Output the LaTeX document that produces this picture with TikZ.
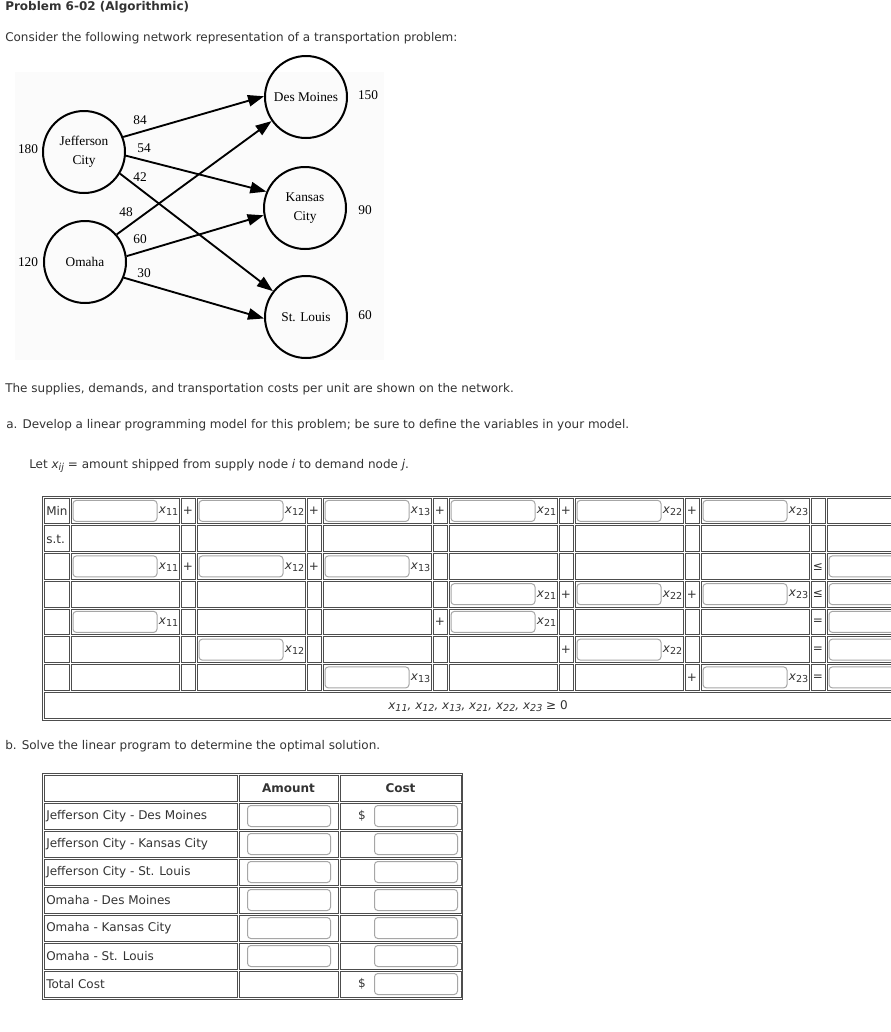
\documentclass[tikz,border=0pt]{standalone}
\usepackage{xcolor}
\usepackage{tikz}
\usepackage{fontspec}
\setmainfont{DejaVu Sans}
\newfontfamily\netfont{Liberation Serif}
\usetikzlibrary{
  arrows.meta,
  positioning,
  calc
}
\definecolor{txtGray}{HTML}{333333}
\definecolor{cellLine}{HTML}{4D4D4D}
\definecolor{boxLine}{HTML}{A6A6A6}
\definecolor{netBack}{HTML}{FBFBFB}

\newcommand{\subnum}[1]{\raisebox{-0.3ex}{\fontsize{7.2}{8}\selectfont #1}}
\newcommand{\xvar}[1]{\textit{x}\subnum{#1}}

\tikzset{
  body/.style={font=\fontsize{9}{11}\selectfont, text=txtGray, inner sep=0pt, anchor=west},
  head/.style={body, font=\fontsize{9}{11}\selectfont\bfseries},
  city/.style={circle, draw, line width=1.5pt, minimum size=61.5pt, inner sep=0pt,
    align=center, font=\netfont\fontsize{10}{14}\selectfont},
  netlbl/.style={font=\netfont\fontsize{10}{12}\selectfont, inner sep=0pt},
  route/.style={line width=1.4pt, -{Triangle[length=12pt,width=8.5pt]}},
  cell/.style={draw=cellLine, line width=0.75pt},
  inbox/.style={draw=boxLine, fill=white, rounded corners=2.5pt, line width=0.75pt},
  varlbl/.style={body, anchor=east},
  sign/.style={body, anchor=center}
}

\begin{document}
\begin{tikzpicture}[x=0.75pt,y=-0.75pt]
  \clip (0,0) rectangle (891,1032);
  \fill[white] (0,0) rectangle (891,1032);

  % heading
  \node[head] (title) at (5,7) {Problem 6-02 (Algorithmic)};
  \node[body] (intro) at (5,38) {Consider the following network representation of a transportation problem:};

  % network
  \fill[netBack] (15,72) rectangle (384,360);
  \node[city] (jc) at (84,152) {Jefferson\\City};
  \node[city] (om) at (85,262) {Omaha};
  \node[city] (dm) at (306,97) {Des Moines};
  \node[city] (kc) at (305,208) {Kansas\\City};
  \node[city] (sl) at (306,317) {St. Louis};
  \node[netlbl] (sjc) at (28,149) {180};
  \node[netlbl] (som) at (28,262) {120};
  \node[netlbl] (ddm) at (368,95) {150};
  \node[netlbl] (dkc) at (365,210) {90};
  \node[netlbl] (dsl) at (365,315) {60};
  \draw[route] (jc.21) -- (dm.179);
  \draw[route] (jc.-5) -- (kc.157);
  \draw[route] (jc.-31) -- (sl.142);
  \draw[route] (om.41) -- (dm.215);
  \draw[route] (om.8) -- (kc.190);
  \draw[route] (om.-22) -- (sl.182);
  \node[netlbl] (c11) at (140,120) {84};
  \node[netlbl] (c12) at (144,148) {54};
  \node[netlbl] (c13) at (140,177) {42};
  \node[netlbl] (c21) at (126,212) {48};
  \node[netlbl] (c22) at (140,239) {60};
  \node[netlbl] (c23) at (144,273) {30};

  % part a
  \node[body] (given) at (5,389) {The supplies, demands, and transportation costs per unit are shown on the network.};
  \node[body] (parta) at (6,425) {a. Develop a linear programming model for this problem; be sure to define the variables in your model.};
  \node[body] (letx) at (29,466) {Let \textit{x\subnum{ij}} = amount shipped from supply node \textit{i} to demand node \textit{j}.};

  % LP table
  \draw[cell] (42,496) rectangle (960,720);
  \foreach \r in {0,...,6} {
    \foreach \xa/\xb in {43/70, 70/180, 180/196, 196/306, 306/322, 322/432, 432/448,
        448/558, 558/574, 574/684, 684/700, 700/810, 810/826, 826/960} {
      \draw[cell] ({\xa+1},{497+27.75*\r+1}) rectangle ({\xb-1},{497+27.75*(\r+1)-1});
    }
  }
  \draw[cell] (44,692.75) rectangle (959,718);
  \node[body] (lmin) at (46,511) {Min};
  \node[body] (lst) at (46,539) {s.t.};
  \foreach \r/\j/\v in {0/0/11, 0/1/12, 0/2/13, 0/3/21, 0/4/22, 0/5/23,
      2/0/11, 2/1/12, 2/2/13, 3/3/21, 3/4/22, 3/5/23,
      4/0/11, 4/3/21, 5/1/12, 5/4/22, 6/2/13, 6/5/23} {
    \draw[inbox] ({73+126*\j},{497+27.75*\r+3.4}) rectangle ++(84,21);
    \node[varlbl] (v\r-\j) at ({178.5+126*\j},{497+27.75*\r+14.5}) {\xvar{\v}};
  }
  \foreach \r/\j in {0/0, 0/1, 0/2, 0/3, 0/4, 2/0, 2/1, 3/3, 3/4, 4/2, 5/3, 6/4} {
    \node[sign] (p\r-\j) at ({188+126*\j},{497+27.75*\r+14}) {+};
  }
  \foreach \r/\s in {2/≤, 3/≤, 4/=, 5/=, 6/=} {
    \node[sign] (rel\r) at (818,{497+27.75*\r+14}) {\s};
    \draw[inbox] (829,{497+27.75*\r+3.4}) rectangle ++(84,21);
  }
  \node[body, anchor=center] (nonneg) at (478,706)
    {\textit{x\subnum{11}, x\subnum{12}, x\subnum{13}, x\subnum{21}, x\subnum{22}, x\subnum{23}} ≥ 0};

  % part b
  \node[body] (partb) at (5,746) {b. Solve the linear program to determine the optimal solution.};
  \draw[cell] (42,773) rectangle (462.5,999);
  \foreach \r in {0,...,7} {
    \foreach \xa/\xb in {43/238, 238/339, 339/462} {
      \draw[cell] ({\xa+1},{774+28*\r+1}) rectangle ({\xb-1},{774+28*(\r+1)-1});
    }
  }
  \node[head, anchor=center] (hamt) at (288.5,788) {Amount};
  \node[head, anchor=center] (hcost) at (400.5,788) {Cost};
  \foreach \r/\t in {1/Jefferson City - Des Moines, 2/Jefferson City - Kansas City,
      3/Jefferson City - St. Louis, 4/Omaha - Des Moines, 5/Omaha - Kansas City,
      6/Omaha - St. Louis, 7/Total Cost} {
    \node[body] (row\r) at (46,{774+28*\r+14}) {\t};
    \draw[inbox] (374.5,{774+28*\r+3.5}) rectangle ++(83,21);
  }
  \foreach \r in {1,...,6} {
    \draw[inbox] (247.5,{774+28*\r+3.5}) rectangle ++(83,21);
  }
  \node[sign] (dol1) at (362,816) {\$};
  \node[sign] (dol7) at (362,984) {\$};
\end{tikzpicture}
\end{document}
